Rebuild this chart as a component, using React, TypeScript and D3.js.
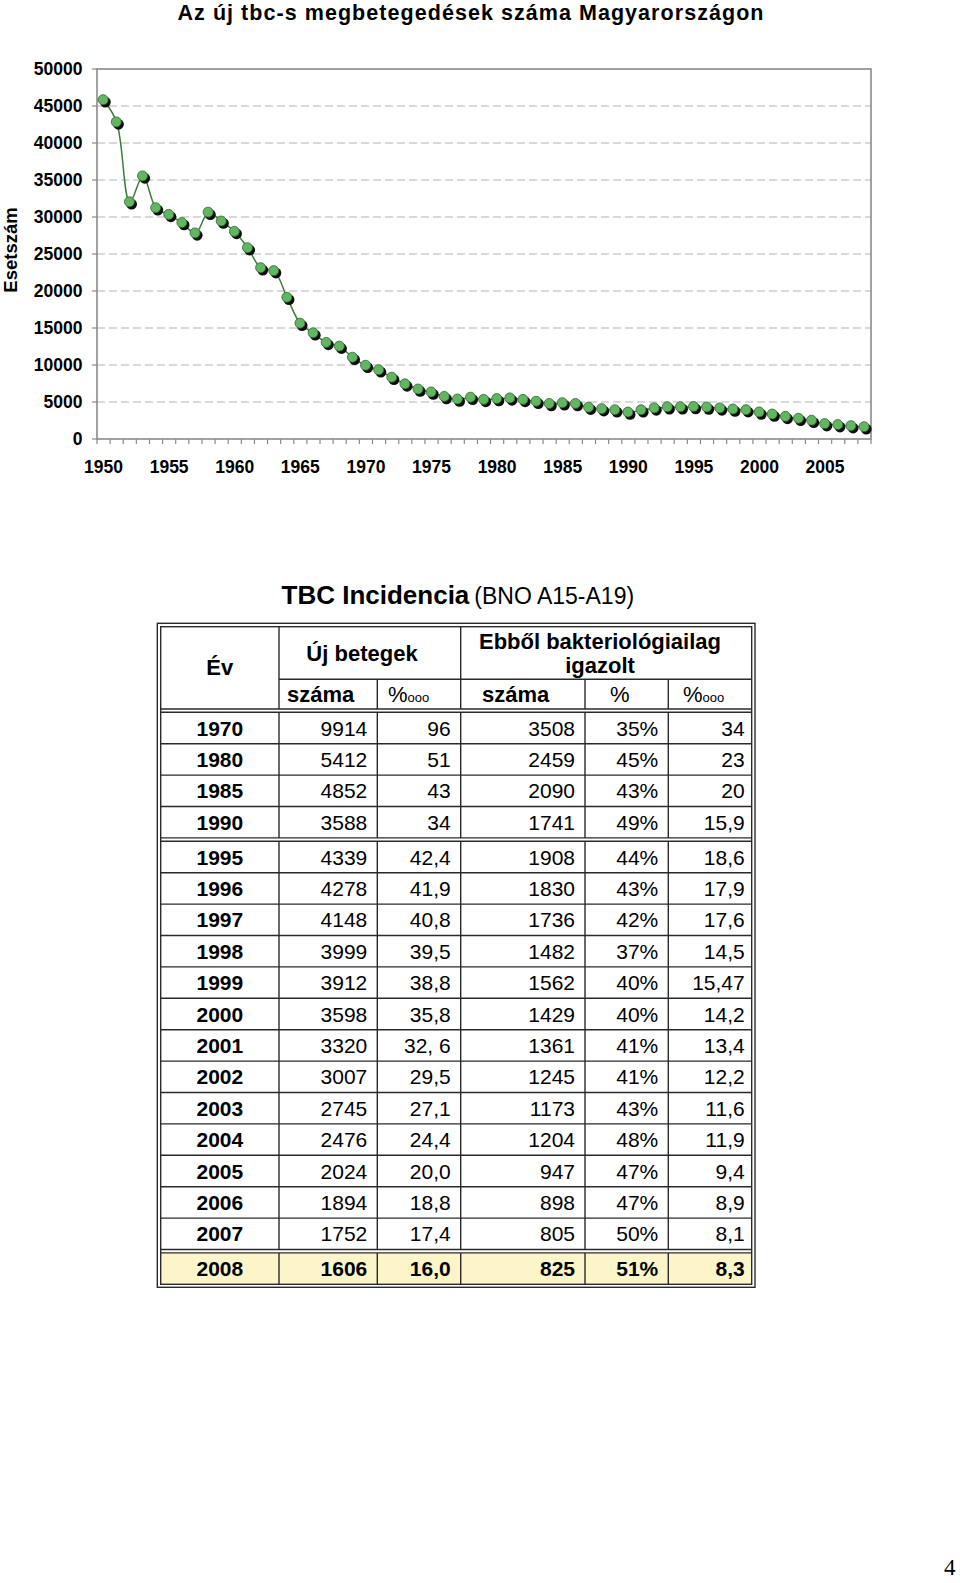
import React from 'react';
import * as d3 from 'd3';

// ---------- Chart data ----------
const chartYears: number[] = d3.range(1950, 2009);
const cases: number[] = [
  45800, 42800, 32000, 35500, 31200, 30300, 29200, 27800, 30600, 29400,
  28000, 25800, 23100, 22700, 19100, 15600, 14300, 13000, 12500, 11000,
  9914, 9300, 8300, 7400, 6700, 6300, 5700, 5350, 5600, 5300,
  5412, 5500, 5300, 5050, 4750, 4852, 4750, 4250, 4050, 3900,
  3588, 3900, 4150, 4300, 4300, 4339, 4278, 4148, 3999, 3912,
  3598, 3320, 3007, 2745, 2476, 2024, 1894, 1752, 1606,
];
const yTicks: number[] = [0, 5000, 10000, 15000, 20000, 25000, 30000, 35000, 40000, 45000, 50000];
const xLabels: number[] = [1950, 1955, 1960, 1965, 1970, 1975, 1980, 1985, 1990, 1995, 2000, 2005];

// ---------- Table data ----------
const tYears: string[] = ['1970', '1980', '1985', '1990', '1995', '1996', '1997', '1998', '1999', '2000', '2001', '2002', '2003', '2004', '2005', '2006', '2007', '2008'];
const ujSzama: string[] = ['9914', '5412', '4852', '3588', '4339', '4278', '4148', '3999', '3912', '3598', '3320', '3007', '2745', '2476', '2024', '1894', '1752', '1606'];
const ujRate: string[] = ['96', '51', '43', '34', '42,4', '41,9', '40,8', '39,5', '38,8', '35,8', '32, 6', '29,5', '27,1', '24,4', '20,0', '18,8', '17,4', '16,0'];
const bakSzama: string[] = ['3508', '2459', '2090', '1741', '1908', '1830', '1736', '1482', '1562', '1429', '1361', '1245', '1173', '1204', '947', '898', '805', '825'];
const bakPct: string[] = ['35%', '45%', '43%', '49%', '44%', '43%', '42%', '37%', '40%', '40%', '41%', '41%', '43%', '48%', '47%', '47%', '50%', '51%'];
const bakRate: string[] = ['34', '23', '20', '15,9', '18,6', '17,9', '17,6', '14,5', '15,47', '14,2', '13,4', '12,2', '11,6', '11,9', '9,4', '8,9', '8,1', '8,3'];

const FONT = "'Liberation Sans', Arial, sans-serif";

export default function App() {
  // chart geometry
  const L = 97, R = 871, T = 69, B = 439;
  const x = d3.scaleBand<number>().domain(chartYears).range([L, R]);
  const y = d3.scaleLinear().domain([0, 50000]).range([B, T]);
  const cx = (yr: number) => (x(yr) as number) + x.bandwidth() / 2;
  const line = d3
    .line<number>()
    .x((_, i) => cx(chartYears[i]))
    .y((d) => y(d))
    .curve(d3.curveCatmullRom.alpha(0.5));
  const boundaries = d3.range(chartYears.length + 1).map((i) => L + i * x.bandwidth());

  // table geometry
  const cols = [160.7, 279, 377.3, 460.7, 585, 668.3, 751.7];
  const rowH = 31.4;
  const gap = 3.4;
  const rowTop = (i: number) => 712.3 + i * rowH + (i >= 4 ? gap : 0) + (i >= 17 ? gap : 0);
  const rowIdx = tYears.map((_, i) => i);
  const lineC = '#2a2a2a';

  const dataCols = [ujSzama, ujRate, bakSzama, bakPct, bakRate];

  return (
    <svg width={960} height={1583} style={{ position: 'absolute', left: 0, top: 0, background: '#fff' }} fontFamily={FONT}>
      {/* chart title */}
      <text x={471} y={20} textAnchor="middle" fontSize={21.5} letterSpacing={1.05} fontWeight="bold" fill="#000">
        Az új tbc-s megbetegedések száma Magyarországon
      </text>

      {/* grid */}
      {yTicks.filter((t) => t > 0 && t < 50000).map((t) => (
        <line key={'g' + t} x1={L} x2={R} y1={y(t)} y2={y(t)} stroke="#b4b4b4" strokeWidth={1.2} strokeDasharray="8,4" />
      ))}
      {/* plot border */}
      <rect x={L} y={T} width={R - L} height={B - T} fill="none" stroke="#8a8a8a" strokeWidth={1.6} />
      {/* y ticks and labels */}
      {yTicks.map((t) => (
        <g key={'y' + t}>
          <line x1={L - 5} x2={L} y1={y(t)} y2={y(t)} stroke="#8a8a8a" strokeWidth={1.2} />
          <text x={82.5} y={y(t)} dy="0.36em" textAnchor="end" fontSize={17.5} fontWeight="bold" fill="#000">
            {t}
          </text>
        </g>
      ))}
      {/* x ticks */}
      {boundaries.map((bx, i) => (
        <line key={'xt' + i} x1={bx} x2={bx} y1={B} y2={B + 5} stroke="#8a8a8a" strokeWidth={1.2} />
      ))}
      {xLabels.map((yr) => (
        <text key={'xl' + yr} x={cx(yr)} y={473} textAnchor="middle" fontSize={17.5} fontWeight="bold" fill="#000">
          {yr}
        </text>
      ))}
      {/* y title */}
      <text transform="translate(17,250) rotate(-90)" textAnchor="middle" fontSize={18.5} fontWeight="bold" fill="#000">
        Esetszám
      </text>

      {/* line */}
      <path d={line(cases) || ''} fill="none" stroke="#3a7d3a" strokeWidth={1.5} />
      {/* markers */}
      {cases.map((v, i) => {
        const px = cx(chartYears[i]);
        const py = y(v);
        return (
          <g key={'m' + i}>
            <circle cx={px + 1.8} cy={py + 2} r={5.4} fill="#0d0d0d" />
            <circle cx={px - 0.4} cy={py - 0.4} r={5} fill="#63b563" stroke="#2f6b2f" strokeWidth={0.8} />
          </g>
        );
      })}

      {/* table title */}
      <text x={281.5} y={604} fill="#000">
        <tspan fontSize={26} fontWeight="bold">TBC Incidencia</tspan>
        <tspan fontSize={23} dx={5}>(BNO A15-A19)</tspan>
      </text>

      {/* 2008 highlight */}
      <rect x={cols[0]} y={rowTop(17)} width={cols[6] - cols[0]} height={rowH} fill="#fcf5c9" />

      {/* outer double border */}
      <rect x={157.3} y={623.3} width={755 - 157.3} height={1287.3 - 623.3} fill="none" stroke={lineC} strokeWidth={1.4} />
      <rect x={160.7} y={626.7} width={751.7 - 160.7} height={rowTop(17) + rowH - 626.7} fill="none" stroke={lineC} strokeWidth={1.4} />

      {/* header lines */}
      <line x1={cols[1]} x2={cols[6]} y1={679.3} y2={679.3} stroke={lineC} strokeWidth={1.4} />
      <line x1={cols[0]} x2={cols[6]} y1={709} y2={709} stroke={lineC} strokeWidth={1.4} />
      <line x1={cols[1]} x2={cols[1]} y1={626.7} y2={709} stroke={lineC} strokeWidth={1.4} />
      <line x1={cols[3]} x2={cols[3]} y1={626.7} y2={709} stroke={lineC} strokeWidth={1.4} />
      <line x1={cols[2]} x2={cols[2]} y1={679.3} y2={709} stroke={lineC} strokeWidth={1.4} />
      <line x1={cols[4]} x2={cols[4]} y1={679.3} y2={709} stroke={lineC} strokeWidth={1.4} />
      <line x1={cols[5]} x2={cols[5]} y1={679.3} y2={709} stroke={lineC} strokeWidth={1.4} />

      {/* header text */}
      <g fontSize={22} fill="#000">
        <text x={219.8} y={675} textAnchor="middle" fontWeight="bold">Év</text>
        <text x={362} y={661} textAnchor="middle" fontWeight="bold">Új betegek</text>
        <text x={600} y={649} textAnchor="middle" fontWeight="bold">Ebből bakteriológiailag</text>
        <text x={600} y={672.5} textAnchor="middle" fontWeight="bold">igazolt</text>
        <text x={287} y={702} fontWeight="bold">száma</text>
        <text x={388} y={702}>%<tspan fontSize={13}>ooo</tspan></text>
        <text x={482} y={702} fontWeight="bold">száma</text>
        <text x={610} y={702}>%</text>
        <text x={683} y={702}>%<tspan fontSize={13}>ooo</tspan></text>
      </g>

      {/* row lines */}
      {rowIdx.map((i) => (
        <line key={'rt' + i} x1={cols[0]} x2={cols[6]} y1={rowTop(i)} y2={rowTop(i)} stroke={lineC} strokeWidth={1.4} />
      ))}
      {[3, 16].map((i) => (
        <line key={'rb' + i} x1={cols[0]} x2={cols[6]} y1={rowTop(i) + rowH} y2={rowTop(i) + rowH} stroke={lineC} strokeWidth={1.4} />
      ))}
      {/* column lines in body */}
      {rowIdx.map((i) =>
        cols.slice(1, 6).map((c, j) => (
          <line key={'c' + i + '_' + j} x1={c} x2={c} y1={rowTop(i)} y2={rowTop(i) + rowH} stroke={lineC} strokeWidth={1.4} />
        ))
      )}

      {/* body text */}
      {rowIdx.map((i) => {
        const base = rowTop(i) + rowH / 2 + 7.6;
        const bold = i === 17;
        return (
          <g key={'r' + i} fontSize={21} fill="#000">
            <text x={(cols[0] + cols[1]) / 2} y={base} textAnchor="middle" fontWeight="bold">{tYears[i]}</text>
            {dataCols.map((arr, j) => (
              <text key={j} x={cols[j + 2] - (j === 4 ? 7 : 10)} y={base} textAnchor="end" fontWeight={bold ? 'bold' : 'normal'}>
                {arr[i]}
              </text>
            ))}
          </g>
        );
      })}

      {/* page number */}
      <text x={944} y={1575} fontFamily="'Liberation Serif', 'Times New Roman', serif" fontSize={23} fill="#000">4</text>
    </svg>
  );
}
